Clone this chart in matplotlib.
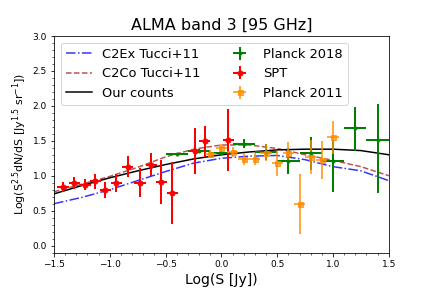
import numpy as np
from matplotlib import pyplot as plt
from matplotlib.ticker import AutoMinorLocator

# model curves, sampled every 0.25 in Log(S)
logs_model = [-1.5, -1.25, -1.0, -0.75, -0.5, -0.25, 0.0, 0.25, 0.5, 0.75, 1.0, 1.25, 1.5]
c2ex = [0.60, 0.69, 0.80, 0.93, 1.06, 1.18, 1.25, 1.28, 1.29, 1.23, 1.13, 1.07, 0.93]
c2co = [0.77, 0.88, 0.99, 1.12, 1.27, 1.38, 1.44, 1.44, 1.39, 1.30, 1.22, 1.13, 1.00]
ours = [0.74, 0.86, 0.97, 1.07, 1.16, 1.24, 1.30, 1.34, 1.37, 1.38, 1.38, 1.36, 1.30]

# SPT
spt_x = [-1.42, -1.32, -1.22, -1.13, -1.04, -0.94, -0.84, -0.73, -0.63, -0.54, -0.44, -0.24, -0.15, 0.06]
spt_y = [0.84, 0.89, 0.87, 0.92, 0.79, 0.89, 1.13, 0.90, 1.16, 0.91, 0.75, 1.35, 1.49, 1.51]
spt_yerr = [0.07, 0.085, 0.08, 0.11, 0.115, 0.13, 0.15, 0.21, 0.17, 0.32, 0.44, 0.33, 0.22, 0.44]
spt_xerr = 0.05

# Planck 2018 (lower / upper errors)
p18_x = [-0.4, -0.2, 0.0, 0.2, 0.4, 0.6, 0.8, 1.0, 1.2, 1.4]
p18_y = [1.31, 1.35, 1.32, 1.46, 1.34, 1.21, 1.32, 1.21, 1.68, 1.51]
p18_lo = [0.02, 0.03, 0.03, 0.06, 0.12, 0.18, 0.24, 0.45, 0.33, 0.76]
p18_hi = [0.02, 0.03, 0.03, 0.06, 0.12, 0.18, 0.24, 0.30, 0.30, 0.52]
p18_xerr = 0.1

# Planck 2011
p11_x = [-0.1, 0.0, 0.1, 0.2, 0.3, 0.4, 0.5, 0.6, 0.7, 0.8, 0.9, 1.0]
p11_y = [1.31, 1.39, 1.34, 1.24, 1.24, 1.33, 1.18, 1.33, 0.59, 1.27, 1.23, 1.55]
p11_yerr = [0.06, 0.07, 0.07, 0.08, 0.08, 0.12, 0.18, 0.15, 0.43, 0.24, 0.27, 0.24]
p11_xerr = 0.05

fig, ax = plt.subplots(figsize=(6, 4), dpi=72)
fig.subplots_adjust(left=0.125, right=0.9, top=0.875, bottom=0.123)

ax.plot(logs_model, c2ex, '-.', color='blue', lw=1.5, alpha=0.8, label='C2Ex Tucci+11')
ax.plot(logs_model, c2co, '--', color='brown', lw=1.5, alpha=0.8, label='C2Co Tucci+11')
ax.plot(logs_model, ours, '-', color='black', lw=1.5, label='Our counts')

ax.errorbar(p18_x, p18_y, yerr=[p18_lo, p18_hi], xerr=p18_xerr, fmt='o', color='green', ms=3,
            elinewidth=2, label='Planck 2018')
ax.errorbar(spt_x, spt_y, yerr=spt_yerr, xerr=spt_xerr, fmt='o', color='red', ms=5,
            elinewidth=2, label='SPT')
ax.errorbar(p11_x, p11_y, yerr=p11_yerr, xerr=p11_xerr, fmt='s', color='darkorange', ms=5,
            elinewidth=2, alpha=0.75, label='Planck 2011')

ax.set_xlim(-1.5, 1.5)
ax.set_ylim(-0.1, 3.0)
ax.xaxis.set_minor_locator(AutoMinorLocator(5))
ax.yaxis.set_minor_locator(AutoMinorLocator(5))
ax.tick_params(labelsize=9)

ax.set_title('ALMA band 3 [95 GHz]', fontsize=16)
ax.set_xlabel('Log(S [Jy])', fontsize=14)
ax.set_ylabel(r'Log(S$^{2.5}$dN/dS [Jy$^{1.5}$ sr$^{-1}$])', fontsize=11)
ax.legend(ncol=2, loc='upper left', fontsize=13)

fig.savefig('out.png', dpi=72)
